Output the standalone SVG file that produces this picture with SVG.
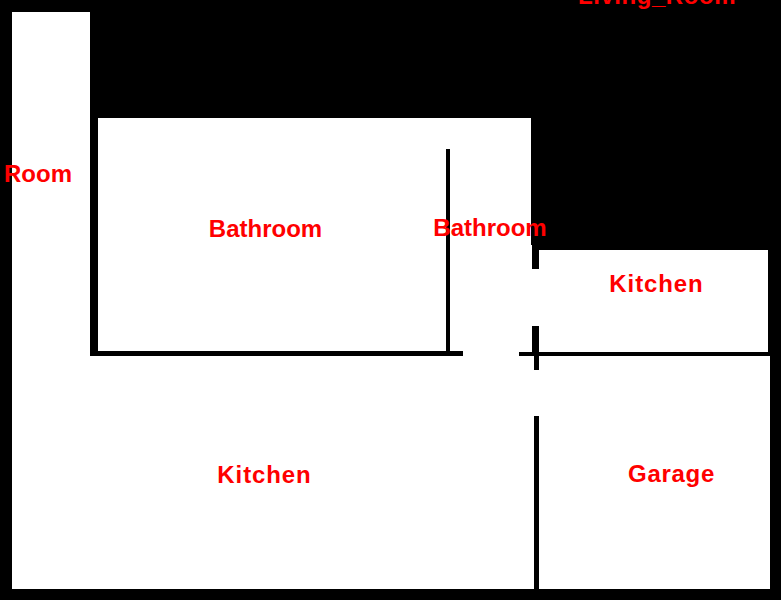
<svg xmlns="http://www.w3.org/2000/svg" width="781" height="600" viewBox="0 0 781 600">
<style>
.w{fill:#fff}
.k{fill:#000}
text{font-family:"Liberation Sans",Arial,sans-serif;font-weight:700;font-size:24px;fill:#f00;text-anchor:middle}
.a{letter-spacing:.9px}
.b{letter-spacing:.7px}
.c{letter-spacing:.55px}
</style>
<rect class="k" x="0" y="0" width="781" height="600"/>
<g id="rooms">
<rect class="w" x="12" y="12" width="78" height="577"/>
<rect class="w" x="12" y="356" width="758" height="233"/>
<rect class="w" x="98" y="118" width="433" height="238"/>
<rect class="w" x="531" y="245" width="8" height="111"/>
<rect class="w" x="539" y="250" width="229" height="102"/>
</g>
<g id="walls">
<rect class="k" x="90" y="118" width="8" height="238"/>
<rect class="k" x="90" y="351" width="373" height="5"/>
<rect class="k" x="519" y="352" width="251" height="4"/>
<rect class="k" x="446" y="149" width="4" height="204"/>
<rect class="k" x="532" y="245" width="7" height="24"/>
<rect class="k" x="532" y="326" width="7" height="26"/>
<rect class="k" x="534" y="352" width="5" height="18"/>
<rect class="k" x="534" y="416" width="5" height="173"/>
</g>
<g id="labels">
<text class="c" x="657" y="4">Living_Room</text>
<text x="38" y="182">Room</text>
<text x="265.500" y="237">Bathroom</text>
<text x="490" y="236">Bathroom</text>
<text class="a" x="656.500" y="292">Kitchen</text>
<text class="a" x="264.500" y="483">Kitchen</text>
<text class="b" x="671.500" y="482">Garage</text>
</g>
</svg>
